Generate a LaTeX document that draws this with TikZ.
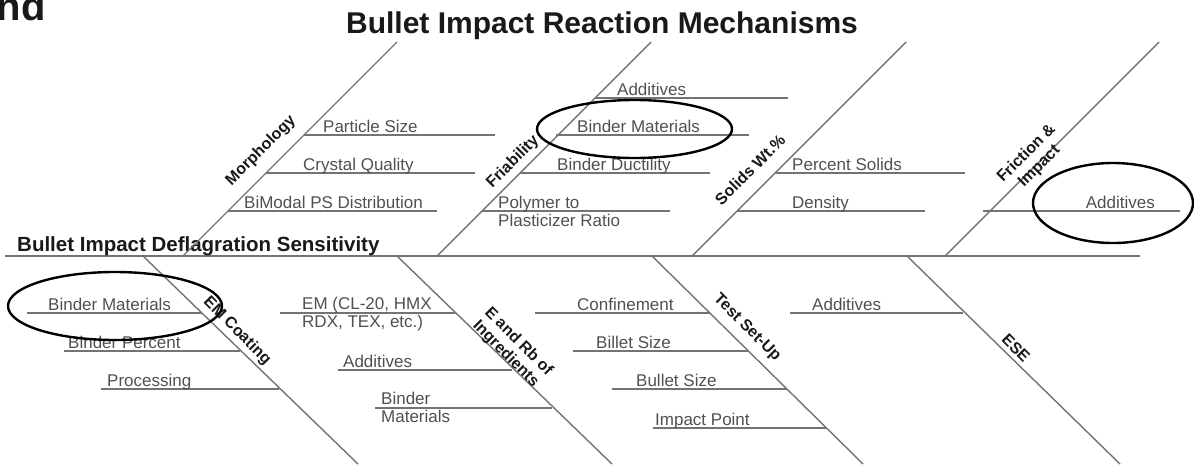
\documentclass[tikz,border=0pt]{standalone}
\usepackage{fontspec}
\setmainfont{Liberation Sans}
\usetikzlibrary{shapes.geometric}
\definecolor{bonegray}{RGB}{115,115,115}
\definecolor{itemgray}{RGB}{80,80,80}
\definecolor{causeblack}{RGB}{25,25,25}

\begin{document}
\begin{tikzpicture}[
    x=1pt, y=-1pt,
    spine/.style={draw=bonegray, line width=2pt},
    bone/.style={draw=bonegray, line width=1.4pt},
    leaf/.style={draw=bonegray, line width=1.8pt},
    item/.style={anchor=base west, inner sep=0pt, text=itemgray, font=\fontsize{17}{18}\selectfont},
    cause/.style={inner sep=0pt, text=causeblack, font=\fontsize{16}{18}\selectfont\bfseries, align=center},
    hilite/.style={draw, ellipse, line width=2.4pt, inner sep=0pt},
]
\useasboundingbox (0,0) rectangle (1194,464);

\node[anchor=base east, inner sep=0pt, text=causeblack, font=\fontsize{40}{44}\selectfont\bfseries] (heading) at (46,20) {nd};
\node[anchor=base, inner sep=0pt, text=causeblack, font=\fontsize{30}{32}\selectfont\bfseries] (title) at (602,33) {Bullet Impact Reaction Mechanisms};

% spine
\coordinate (tail) at (5,256);
\coordinate (head) at (1140,256);
\draw[spine] (tail) -- (head);
\node[anchor=base west, inner sep=0pt, text=causeblack, font=\fontsize{20.5}{22}\selectfont\bfseries] (effect) at (17,251) {Bullet Impact Deflagration Sensitivity};

% upper bones
\coordinate (morph0) at (183,256); \coordinate (morph1) at (397,42);
\coordinate (fria0) at (437,256);  \coordinate (fria1) at (651,42);
\coordinate (solids0) at (692,256); \coordinate (solids1) at (906,42);
\coordinate (fric0) at (945,256);  \coordinate (fric1) at (1159,42);
\draw[bone] (morph0) -- (morph1);
\draw[bone] (fria0) -- (fria1);
\draw[bone] (solids0) -- (solids1);
\draw[bone] (fric0) -- (fric1);

% lower bones
\coordinate (coat0) at (143,256);  \coordinate (coat1) at (358,464);
\coordinate (ingr0) at (397,256);  \coordinate (ingr1) at (612,464);
\coordinate (setup0) at (652,256); \coordinate (setup1) at (863,464);
\coordinate (ese0) at (907,256);   \coordinate (ese1) at (1120,464);
\draw[bone] (coat0) -- (coat1);
\draw[bone] (ingr0) -- (ingr1);
\draw[bone] (setup0) -- (setup1);
\draw[bone] (ese0) -- (ese1);

% cause labels
\node[cause, rotate=45] (morph) at (261,151) {Morphology};
\node[cause, rotate=45] (fria) at (513,162) {Friability};
\node[cause, rotate=45] (solids) at (750,170) {Solids Wt.\%};
\node[cause, rotate=45] (fric) at (1033,160) {Friction \&\\Impact};
\node[cause, rotate=-45] (coat) at (237,331) {EM Coating};
\node[cause, rotate=-45] (ingr) at (512,348) {E and Rb of\\Ingredients};
\node[cause, rotate=-45] (setup) at (747,328) {Test Set-Up};
\node[cause, rotate=-45] (ese) at (1016,348) {ESE};

% morphology
\coordinate (ps0) at (304,135); \coordinate (ps1) at (495,135);
\coordinate (cq0) at (266,173); \coordinate (cq1) at (475,173);
\coordinate (bm0) at (228,211); \coordinate (bm1) at (437,211);
\draw[leaf] (ps0) -- (ps1);
\draw[leaf] (cq0) -- (cq1);
\draw[leaf] (bm0) -- (bm1);
\node[item] (ps) at (323,132) {Particle Size};
\node[item] (cq) at (303,170) {Crystal Quality};
\node[item] (bm) at (244,208) {BiModal PS Distribution};

% friability
\coordinate (fa0) at (595,98);   \coordinate (fa1) at (788,98);
\coordinate (fbm0) at (556,135); \coordinate (fbm1) at (749,135);
\coordinate (fbd0) at (520,173); \coordinate (fbd1) at (710,173);
\coordinate (fpp0) at (482,211); \coordinate (fpp1) at (670,211);
\draw[leaf] (fa0) -- (fa1);
\draw[leaf] (fbm0) -- (fbm1);
\draw[leaf] (fbd0) -- (fbd1);
\draw[leaf] (fpp0) -- (fpp1);
\node[item] (fa) at (617,95) {Additives};
\node[item] (fbm) at (577,132) {Binder Materials};
\node[item] (fbd) at (557,170) {Binder Ductility};
\node[item, align=left] (fpp) at (498,226) {Polymer to\\Plasticizer Ratio};

% solids
\coordinate (sps0) at (775,173); \coordinate (sps1) at (965,173);
\coordinate (sd0) at (737,211);  \coordinate (sd1) at (925,211);
\draw[leaf] (sps0) -- (sps1);
\draw[leaf] (sd0) -- (sd1);
\node[item] (sps) at (792,170) {Percent Solids};
\node[item] (sd) at (792,208) {Density};

% friction and impact
\coordinate (xa0) at (983,211); \coordinate (xa1) at (1180,211);
\draw[leaf] (xa0) -- (xa1);
\node[item, anchor=base east] (xa) at (1155,208) {Additives};

% em coating
\coordinate (cbm0) at (27,313);  \coordinate (cbm1) at (202,313);
\coordinate (cbp0) at (64,351);  \coordinate (cbp1) at (240,351);
\coordinate (cpr0) at (101,389); \coordinate (cpr1) at (279,389);
\draw[leaf] (cbm0) -- (cbm1);
\draw[leaf] (cbp0) -- (cbp1);
\draw[leaf] (cpr0) -- (cpr1);
\node[item] (cbm) at (48,310) {Binder Materials};
\node[item] (cbp) at (68,348) {Binder Percent};
\node[item] (cpr) at (107,386) {Processing};

% ingredients
\coordinate (iem0) at (280,313); \coordinate (iem1) at (455,313);
\coordinate (iad0) at (338,370); \coordinate (iad1) at (512,370);
\coordinate (ibm0) at (375,408); \coordinate (ibm1) at (552,408);
\draw[leaf] (iem0) -- (iem1);
\draw[leaf] (iad0) -- (iad1);
\draw[leaf] (ibm0) -- (ibm1);
\node[item, align=left] (iem) at (302,327) {EM (CL-20, HMX\\RDX, TEX, etc.)};
\node[item] (iad) at (343,367) {Additives};
\node[item, align=left] (ibm) at (381,422) {Binder\\Materials};

% test set-up
\coordinate (tcf0) at (535,313); \coordinate (tcf1) at (710,313);
\coordinate (tbs0) at (573,351); \coordinate (tbs1) at (748,351);
\coordinate (tus0) at (612,389); \coordinate (tus1) at (787,389);
\coordinate (tip0) at (653,428); \coordinate (tip1) at (827,428);
\draw[leaf] (tcf0) -- (tcf1);
\draw[leaf] (tbs0) -- (tbs1);
\draw[leaf] (tus0) -- (tus1);
\draw[leaf] (tip0) -- (tip1);
\node[item] (tcf) at (577,310) {Confinement};
\node[item] (tbs) at (596,348) {Billet Size};
\node[item] (tus) at (636,386) {Bullet Size};
\node[item] (tip) at (655,425) {Impact Point};

% ese
\coordinate (ead0) at (790,313); \coordinate (ead1) at (963,313);
\draw[leaf] (ead0) -- (ead1);
\node[item] (ead) at (812,310) {Additives};

% highlighted items
\node[hilite, minimum width=195pt, minimum height=58pt] (hlfria) at (634.5,129) {};
\node[hilite, minimum width=160pt, minimum height=80pt] (hlfric) at (1113,203) {};
\node[hilite, minimum width=214pt, minimum height=68pt] (hlcoat) at (115,306) {};

\end{tikzpicture}
\end{document}
